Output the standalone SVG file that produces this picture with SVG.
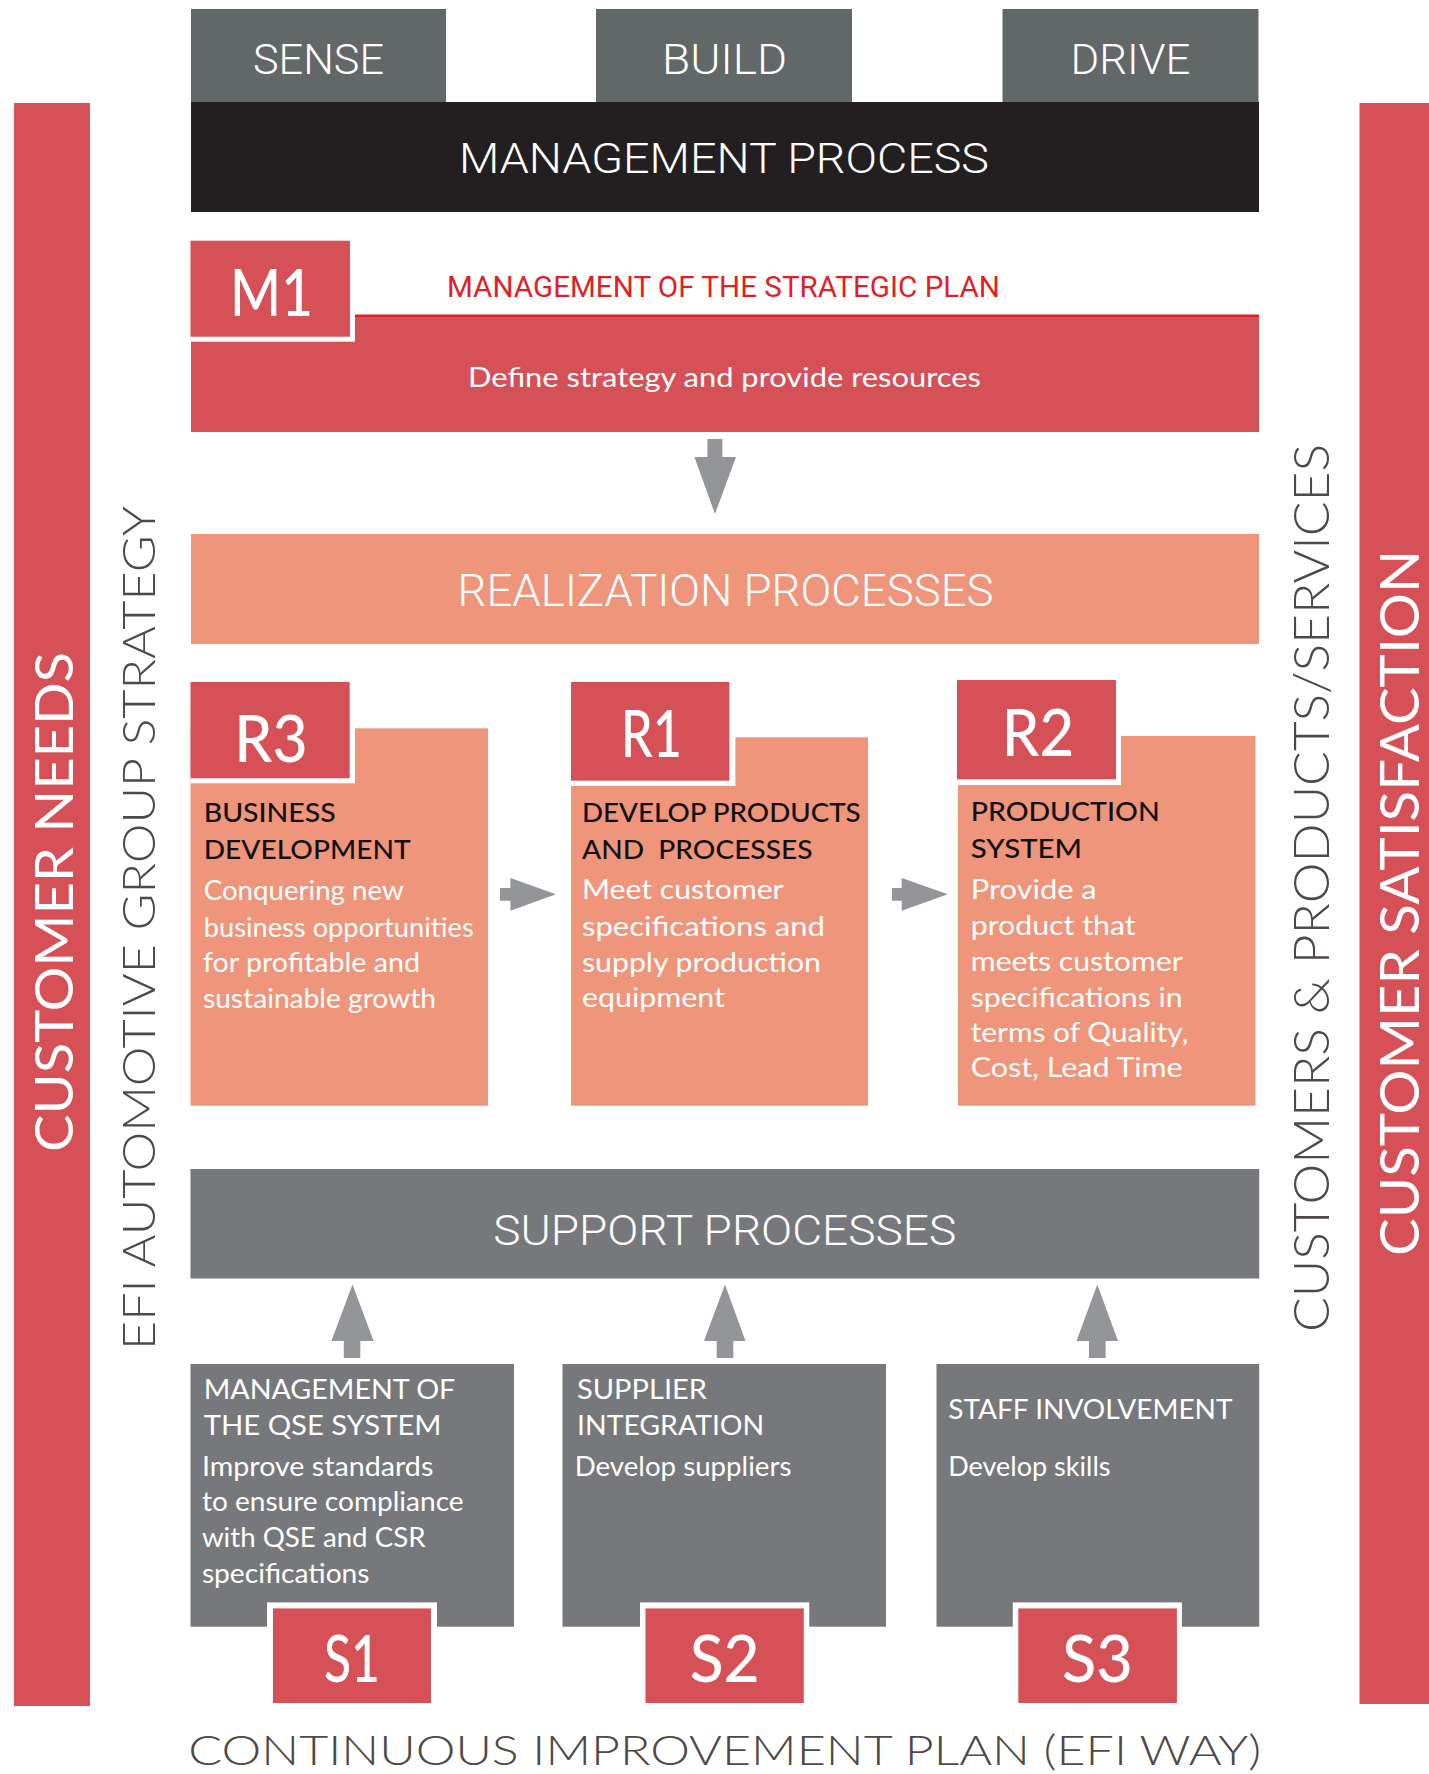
<svg xmlns="http://www.w3.org/2000/svg" width="1429" height="1774" viewBox="0 0 1429 1774">
<style>
.red{fill:#d65157}
.salmon{fill:#ef957b}
.gray{fill:#77787b}
.tab{fill:#626767}
.blk{fill:#231f20}
.wht{fill:#ffffff}
.arrow{fill:#939598}
.cond{font-family:Roboto,"Liberation Sans",sans-serif;font-weight:300;fill:#ffffff;text-anchor:middle}
.body{font-family:Lato,"Open Sans",sans-serif;font-size:26px;fill:#ffffff}
.head{font-family:Lato,"Open Sans",sans-serif;font-size:27px;fill:#111111;font-weight:500}
.ghead{font-family:Lato,"Open Sans",sans-serif;font-size:27px;fill:#ffffff}
.lbl{font-family:Lato,"Open Sans",sans-serif;font-size:65px;fill:#ffffff;font-weight:500;text-anchor:middle}
.side{font-family:Lato,"Open Sans",sans-serif;font-weight:300;fill:#4f4846;text-anchor:middle}
.sidew{font-family:Lato,"Open Sans",sans-serif;font-weight:400;fill:#ffffff;text-anchor:middle}
</style>

<g id="customer-needs">
<rect class="red" x="14" y="103" width="76" height="1603"/>
<text class="sidew" font-size="52" transform="translate(72.5,902) rotate(-90)" textLength="500" lengthAdjust="spacingAndGlyphs">CUSTOMER NEEDS</text>
</g>

<g id="efi-strategy">
<text class="side" font-size="46" transform="translate(155,928) rotate(-90)" textLength="844" lengthAdjust="spacingAndGlyphs">EFI AUTOMOTIVE GROUP STRATEGY</text>
</g>

<g id="customer-satisfaction">
<rect class="red" x="1359.5" y="103" width="69.5" height="1601"/>
<text class="sidew" font-size="54" transform="translate(1419,903) rotate(-90)" textLength="706" lengthAdjust="spacingAndGlyphs">CUSTOMER SATISFACTION</text>
</g>

<g id="customers-products">
<text class="side" font-size="50" transform="translate(1329,888) rotate(-90)" textLength="888" lengthAdjust="spacingAndGlyphs">CUSTOMERS &amp; PRODUCTS/SERVICES</text>
</g>

<g id="tab-sense">
<rect class="tab" x="191" y="9" width="255" height="93"/>
<text class="cond" font-size="43" x="318.5" y="74" textLength="131" lengthAdjust="spacingAndGlyphs">SENSE</text>
</g>
<g id="tab-build">
<rect class="tab" x="596" y="9" width="256" height="93"/>
<text class="cond" font-size="43" x="724.5" y="74" textLength="125" lengthAdjust="spacingAndGlyphs">BUILD</text>
</g>
<g id="tab-drive">
<rect class="tab" x="1002.5" y="9" width="256" height="93"/>
<text class="cond" font-size="43" x="1130.5" y="74" textLength="120" lengthAdjust="spacingAndGlyphs">DRIVE</text>
</g>

<g id="management-process">
<rect class="blk" x="191" y="102" width="1068" height="110"/>
<text class="cond" font-size="43" x="724" y="173" textLength="530" lengthAdjust="spacingAndGlyphs">MANAGEMENT PROCESS</text>
</g>

<g id="m1">
<rect class="red" x="191" y="316" width="1068" height="116"/>
<rect fill="#e31e25" x="355" y="314.5" width="904" height="2.5"/>
<rect class="wht" x="190.5" y="240.7" width="164.5" height="101"/>
<rect class="red" x="190.5" y="240.7" width="159.5" height="96"/>
<text class="lbl" font-size="70" x="271.5" y="316" textLength="83" lengthAdjust="spacingAndGlyphs">M1</text>
<text x="447" y="296.7" font-family="Roboto,'Liberation Sans',sans-serif" font-size="30" fill="#e31e25" textLength="553" lengthAdjust="spacingAndGlyphs">MANAGEMENT OF THE STRATEGIC PLAN</text>
<text class="body" font-size="30" x="468" y="386.5" textLength="513" lengthAdjust="spacingAndGlyphs">Define strategy and provide resources</text>
</g>

<g id="realization">
<rect class="salmon" x="191" y="534" width="1068" height="110"/>
<text class="cond" font-size="44" x="725.5" y="605.7" textLength="536" lengthAdjust="spacingAndGlyphs">REALIZATION PROCESSES</text>
</g>

<g id="r3">
<rect class="salmon" x="190.5" y="728.3" width="297.5" height="377.4"/>
<rect class="wht" x="190.5" y="682" width="164.5" height="101.3"/>
<rect class="red" x="190.5" y="682" width="159.2" height="96.3"/>
<text class="lbl" x="271" y="761.7" textLength="73.5" lengthAdjust="spacingAndGlyphs">R3</text>
<text class="head" x="203.7" y="822.3" textLength="132" lengthAdjust="spacingAndGlyphs">BUSINESS</text>
<text class="head" x="203.7" y="859" textLength="207" lengthAdjust="spacingAndGlyphs">DEVELOPMENT</text>
<text class="body" x="203.7" y="900" textLength="200" lengthAdjust="spacingAndGlyphs">Conquering new</text>
<text class="body" x="203.7" y="936.7" textLength="270" lengthAdjust="spacingAndGlyphs">business opportunities</text>
<text class="body" x="203" y="972.3" textLength="217" lengthAdjust="spacingAndGlyphs">for profitable and</text>
<text class="body" x="203" y="1008.3" textLength="233" lengthAdjust="spacingAndGlyphs">sustainable growth</text>
</g>

<g id="r1">
<rect class="salmon" x="571" y="737.3" width="297" height="368.4"/>
<rect class="wht" x="571" y="682" width="164.4" height="104"/>
<rect class="red" x="571" y="682" width="158.4" height="98.7"/>
<text class="lbl" x="651.5" y="756.7" textLength="61" lengthAdjust="spacingAndGlyphs">R1</text>
<text class="head" x="582" y="822.3" textLength="278.7" lengthAdjust="spacingAndGlyphs">DEVELOP PRODUCTS</text>
<text class="head" x="582" y="859" textLength="230.5" lengthAdjust="spacingAndGlyphs" xml:space="preserve">AND  PROCESSES</text>
<text class="body" x="582" y="899.3" textLength="201.6" lengthAdjust="spacingAndGlyphs">Meet customer</text>
<text class="body" x="582" y="935.7" textLength="243" lengthAdjust="spacingAndGlyphs">specifications and</text>
<text class="body" x="582" y="971.7" textLength="239" lengthAdjust="spacingAndGlyphs">supply production</text>
<text class="body" x="582" y="1006.7" textLength="143" lengthAdjust="spacingAndGlyphs">equipment</text>
</g>

<g id="r2">
<rect class="salmon" x="958" y="736" width="297.5" height="369.7"/>
<rect class="wht" x="957" y="680" width="164" height="105"/>
<rect class="red" x="957" y="680" width="159" height="99.3"/>
<text class="lbl" x="1038" y="756" textLength="72.5" lengthAdjust="spacingAndGlyphs">R2</text>
<text class="head" x="970.7" y="821" textLength="189" lengthAdjust="spacingAndGlyphs">PRODUCTION</text>
<text class="head" x="970.7" y="857.7" textLength="111.4" lengthAdjust="spacingAndGlyphs">SYSTEM</text>
<text class="body" x="970.7" y="899" textLength="126" lengthAdjust="spacingAndGlyphs">Provide a</text>
<text class="body" x="970.7" y="935" textLength="165" lengthAdjust="spacingAndGlyphs">product that</text>
<text class="body" x="970.7" y="971" textLength="212" lengthAdjust="spacingAndGlyphs">meets customer</text>
<text class="body" x="970.7" y="1006.7" textLength="212" lengthAdjust="spacingAndGlyphs">specifications in</text>
<text class="body" x="970.7" y="1042" textLength="217.7" lengthAdjust="spacingAndGlyphs">terms of Quality,</text>
<text class="body" x="970.7" y="1077.3" textLength="212" lengthAdjust="spacingAndGlyphs">Cost, Lead Time</text>
</g>

<g id="support">
<rect class="gray" x="190.5" y="1169" width="1068.7" height="109.5"/>
<text class="cond" font-size="43" x="724.7" y="1244.7" textLength="463" lengthAdjust="spacingAndGlyphs">SUPPORT PROCESSES</text>
</g>

<g id="s1">
<rect class="gray" x="190.5" y="1364" width="323.5" height="262.7"/>
<rect class="wht" x="267" y="1602.4" width="170" height="100.6"/>
<rect class="red" x="273" y="1608.4" width="158" height="94.6"/>
<text class="lbl" x="352" y="1682.4" textLength="56" lengthAdjust="spacingAndGlyphs">S1</text>
<text class="ghead" x="203.7" y="1398.7" textLength="251.6" lengthAdjust="spacingAndGlyphs">MANAGEMENT OF</text>
<text class="ghead" x="203.7" y="1435.3" textLength="237.8" lengthAdjust="spacingAndGlyphs">THE QSE SYSTEM</text>
<text class="body" x="201.9" y="1475.5" textLength="231.4" lengthAdjust="spacingAndGlyphs">Improve standards</text>
<text class="body" x="201.9" y="1511.3" textLength="261.7" lengthAdjust="spacingAndGlyphs">to ensure compliance</text>
<text class="body" x="201.9" y="1547" textLength="223.6" lengthAdjust="spacingAndGlyphs">with QSE and CSR</text>
<text class="body" x="201.9" y="1583" textLength="167.6" lengthAdjust="spacingAndGlyphs">specifications</text>
</g>

<g id="s2">
<rect class="gray" x="562.5" y="1364" width="323.5" height="262.7"/>
<rect class="wht" x="640" y="1602.4" width="169.3" height="100.6"/>
<rect class="red" x="645.5" y="1608.4" width="158.3" height="94.6"/>
<text class="lbl" x="724.7" y="1682.4" textLength="70" lengthAdjust="spacingAndGlyphs">S2</text>
<text class="ghead" x="577" y="1398.7" textLength="130" lengthAdjust="spacingAndGlyphs">SUPPLIER</text>
<text class="ghead" x="577" y="1435.3" textLength="187.3" lengthAdjust="spacingAndGlyphs">INTEGRATION</text>
<text class="body" x="574.7" y="1475.5" textLength="216.7" lengthAdjust="spacingAndGlyphs">Develop suppliers</text>
</g>

<g id="s3">
<rect class="gray" x="936.5" y="1364" width="322.7" height="262.7"/>
<rect class="wht" x="1012.8" y="1602.4" width="169.1" height="100.6"/>
<rect class="red" x="1018.3" y="1608.4" width="158.6" height="94.6"/>
<text class="lbl" x="1097.5" y="1682.4" textLength="71" lengthAdjust="spacingAndGlyphs">S3</text>
<text class="ghead" x="948.2" y="1418.6" textLength="284.4" lengthAdjust="spacingAndGlyphs">STAFF INVOLVEMENT</text>
<text class="body" x="948.2" y="1475.5" textLength="162.3" lengthAdjust="spacingAndGlyphs">Develop skills</text>
</g>

<g id="continuous-improvement">
<text class="side" font-size="42" x="724.8" y="1765" textLength="1073" lengthAdjust="spacingAndGlyphs">CONTINUOUS IMPROVEMENT PLAN (EFI WAY)</text>
</g>

<g id="connectors">
<polygon class="arrow" points="707.4,439 722.4,439 722.4,457 736,457 715,514 694.4,457 707.4,457"/>
<polygon class="arrow" points="500,888 510.4,888 510.4,878 556,894.3 510.4,910.7 510.4,900.7 500,900.7"/>
<polygon class="arrow" points="892,888 901.7,888 901.7,878 947.8,894.3 901.7,910.7 901.7,900.7 892,900.7"/>
<polygon class="arrow" points="343.8,1358 343.8,1341 331.4,1341 352.5,1284.5 373.6,1341 360.3,1341 360.3,1358"/>
<polygon class="arrow" points="716.7,1358 716.7,1341 704,1341 725,1284.5 745.5,1341 733.3,1341 733.3,1358"/>
<polygon class="arrow" points="1089,1358 1089,1341 1076.5,1341 1097.3,1284.5 1118,1341 1105.6,1341 1105.6,1358"/>
</g>
</svg>
